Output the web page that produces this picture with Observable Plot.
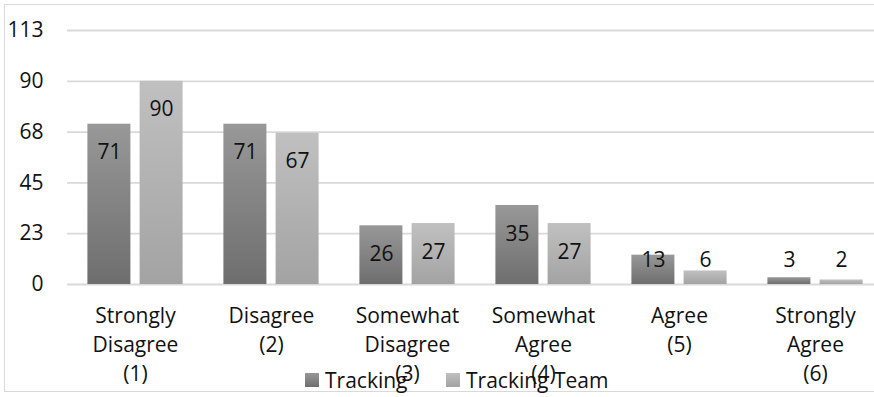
<!DOCTYPE html>
<html>
<head>
<meta charset="utf-8">
<script src="https://cdn.jsdelivr.net/npm/d3@7"></script>
<script src="https://cdn.jsdelivr.net/npm/@observablehq/plot@0.6"></script>
<style>
  html, body { margin: 0; padding: 0; background: #fff; overflow: hidden; }
  #wrap { position: relative; width: 874px; height: 397px; overflow: hidden; font-family: "Open Sans", sans-serif; }
  #border { position: absolute; left: 4px; top: 4px; width: 900px; height: 388px; border: 1.5px solid #d9d9d9; box-sizing: border-box; }
  #chart { position: absolute; left: 0; top: 0; }
  #legend { position: absolute; top: 366px; left: 0; width: 874px; font-size: 21px; color: #111; }
  .item { position: absolute; display: flex; align-items: center; white-space: nowrap; }
  .sw { width: 14px; height: 14px; margin-right: 6px; }
</style>
</head>
<body>
<div id="wrap">
  <div id="border"></div>
  <div id="chart"></div>
  <div id="legend"></div>
</div>
<script>
const categories = ["Strongly\nDisagree\n(1)", "Disagree\n(2)", "Somewhat\nDisagree\n(3)", "Somewhat\nAgree\n(4)", "Agree\n(5)", "Strongly\nAgree\n(6)"];
const seriesNames = ["Tracking", "Tracking Team"];
const tracking = [71, 71, 26, 35, 13, 3];
const trackingTeam = [90, 67, 27, 27, 6, 2];
const yTicks = [0, 22.5, 45, 67.5, 90, 112.5];

const gradients = {
  "Tracking": ["#989898", "#6e6e6e"],
  "Tracking Team": ["#c0c0c0", "#a3a3a3"]
};

const rows = [];
categories.forEach((c, i) => {
  rows.push({cat: c, series: seriesNames[0], value: tracking[i]});
  rows.push({cat: c, series: seriesNames[1], value: trackingTeam[i]});
});

const defsMark = () => {
  const defs = d3.create("svg:defs");
  seriesNames.forEach((s, i) => {
    const g = defs.append("linearGradient").attr("id", "grad" + i)
      .attr("x1", 0).attr("y1", 0).attr("x2", 0).attr("y2", 1);
    g.append("stop").attr("offset", "0%").attr("stop-color", gradients[s][0]);
    g.append("stop").attr("offset", "100%").attr("stop-color", gradients[s][1]);
  });
  return defs.node();
};

const barInset = 52.2;
const labelDx = 26.1;

const chart = Plot.plot({
  width: 874,
  height: 397,
  marginTop: 30,
  marginBottom: 113,
  marginLeft: 67,
  marginRight: -9,
  style: {fontFamily: "Open Sans, sans-serif", color: "#111", background: "transparent"},
  x: {domain: categories, paddingInner: 0.3, paddingOuter: 0.15, round: false},
  y: {domain: [0, 112.5]},
  marks: [
    defsMark,
    Plot.gridY({ticks: yTicks, stroke: "#d9d9d9", strokeOpacity: 1, strokeWidth: 1.8}),
    Plot.barY(rows.filter(d => d.series === seriesNames[0]), {x: "cat", y: "value", fill: "url(#grad0)", insetRight: barInset}),
    Plot.barY(rows.filter(d => d.series === seriesNames[1]), {x: "cat", y: "value", fill: "url(#grad1)", insetLeft: barInset}),
    Plot.text(rows.filter(d => d.series === seriesNames[0]), {x: "cat", y: d => Math.max(d.value - 12.6, 10.6), text: "value", dx: -labelDx, fontSize: 21, fill: "#111"}),
    Plot.text(rows.filter(d => d.series === seriesNames[1]), {x: "cat", y: d => Math.max(d.value - 12.6, 10.6), text: "value", dx: labelDx, fontSize: 21, fill: "#111"}),
    Plot.axisY({ticks: yTicks, tickFormat: d => Math.round(d), tickSize: 0, tickPadding: 24, fontSize: 21, label: null}),
    Plot.axisX({tickSize: 0, tickPadding: 18, fontSize: 21, lineHeight: 1.38, label: null})
  ]
});
document.getElementById("chart").appendChild(chart);

const legend = document.getElementById("legend");
const legendPos = [305, 446];
seriesNames.forEach((s, i) => {
  const item = document.createElement("div");
  item.className = "item";
  item.style.left = legendPos[i] + "px";
  const sw = document.createElement("div");
  sw.className = "sw";
  sw.style.background = `linear-gradient(${gradients[s][0]}, ${gradients[s][1]})`;
  const t = document.createElement("span");
  t.textContent = s;
  item.appendChild(sw);
  item.appendChild(t);
  legend.appendChild(item);
});
</script>
</body>
</html>
